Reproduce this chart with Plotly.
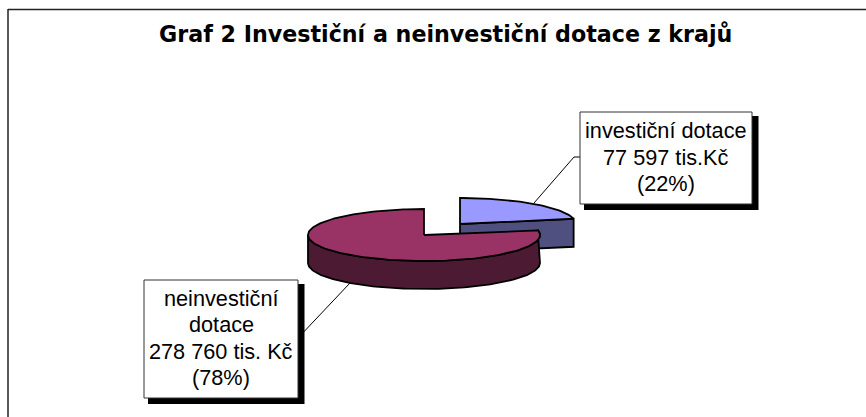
import numpy as np
import plotly.graph_objects as go

# Data
categories = ["investiční dotace", "neinvestiční dotace"]
values = [77597, 278760]
label_lines = [["investiční dotace", "77 597 tis.Kč", "(22%)"],
               ["neinvestiční", "dotace", "278 760 tis. Kč", "(78%)"]]
title = "Graf 2 Investiční a neinvestiční dotace z krajů"

W, H = 866, 417
RX, RY, DEPTH = 116, 26, 28
top_colors = ["#9999FF", "#993366"]
side_colors = ["#4F4F80", "#4D1A33"]
centers = [(460, 224), (424, 235)]
OUT = dict(color="black", width=1.8)

total = sum(values)
splits = np.cumsum([0] + values) / total * 2 * np.pi


def arc(c, a0, a1, dy=0):
    t = np.linspace(a0, a1, max(2, int((a1 - a0) * 40)))
    return c[0] + RX * np.sin(t), c[1] - RY * np.cos(t) + dy


fig = go.Figure()


def poly(x, y, color):
    fig.add_trace(go.Scatter(x=list(x), y=list(y), mode="lines", fill="toself",
                             fillcolor=color, line=OUT, hoverinfo="skip", showlegend=False))


for i, c in enumerate(centers):
    a0, a1 = splits[i], splits[i + 1]
    if i == 0:
        # cut face between the centre and the rim end of the small slice
        tipx, tipy = arc(c, a1, a1 + 0.01)
        poly([c[0], tipx[0], tipx[0], c[0], c[0]],
             [c[1], tipy[0], tipy[0] + DEPTH, c[1] + DEPTH, c[1]], side_colors[i])
    else:
        ax, ay = arc(c, a0, 3 * np.pi / 2)
        bx, by = arc(c, max(a0, np.pi / 2), 3 * np.pi / 2, DEPTH)
        poly([*ax, *bx[::-1], ax[0]], [*ay, *by[::-1], ay[0]], side_colors[i])
    tx, ty = arc(c, a0, a1)
    poly([c[0], *tx, c[0]], [c[1], *ty, c[1]], top_colors[i])

boxes = [(580, 112, 752, 204), (144, 280, 298, 398)]
leaders = [([580, 574, 534], [157, 157, 203]), ([298, 350], [338, 283])]
for lx, ly in leaders:
    fig.add_trace(go.Scatter(x=lx, y=ly, mode="lines", line=dict(color="black", width=1),
                             hoverinfo="skip", showlegend=False))

shapes = [
    dict(type="line", xref="x", yref="y", x0=8, x1=8, y0=9, y1=H, line=dict(color="#222", width=1.5)),
    dict(type="line", xref="x", yref="y", x0=8, x1=W, y0=9.5, y1=9.5, line=dict(color="#222", width=1.5)),
]
for x0, y0, x1, y1 in boxes:
    shapes.append(dict(type="rect", xref="x", yref="y", x0=x0 + 4, y0=y0 + 4, x1=x1 + 6.5, y1=y1 + 6,
                       fillcolor="black", line=dict(width=0), layer="above"))
    shapes.append(dict(type="rect", xref="x", yref="y", x0=x0, y0=y0, x1=x1, y1=y1,
                       fillcolor="white", line=dict(color="#333", width=1), layer="above"))

LINE = 26.3
annotations = []
for (x0, y0, x1, y1), lines in zip(boxes, label_lines):
    cy = (y0 + y1) / 2 - 1
    for k, text in enumerate(lines):
        annotations.append(dict(x=(x0 + x1) / 2, y=cy + (k - (len(lines) - 1) / 2) * LINE,
                                xref="x", yref="y", text=text, showarrow=False, align="center",
                                font=dict(family="Liberation Sans", size=21.7, color="black")))
annotations.append(dict(x=445.5, y=34, xref="x", yref="y", text="<b>" + title + "</b>", showarrow=False,
                        font=dict(family="DejaVu Sans", size=22.2, color="black")))

fig.update_layout(width=W, height=H, margin=dict(l=0, r=0, t=0, b=0), autosize=False,
                  paper_bgcolor="white", plot_bgcolor="white", shapes=shapes, annotations=annotations,
                  showlegend=False,
                  xaxis=dict(range=[0, W], visible=False, fixedrange=True),
                  yaxis=dict(range=[H, 0], visible=False, fixedrange=True))
fig.write_html("out.html", config=dict(displayModeBar=False),
               post_script="document.body.style.margin='0';document.body.style.overflow='hidden';")
